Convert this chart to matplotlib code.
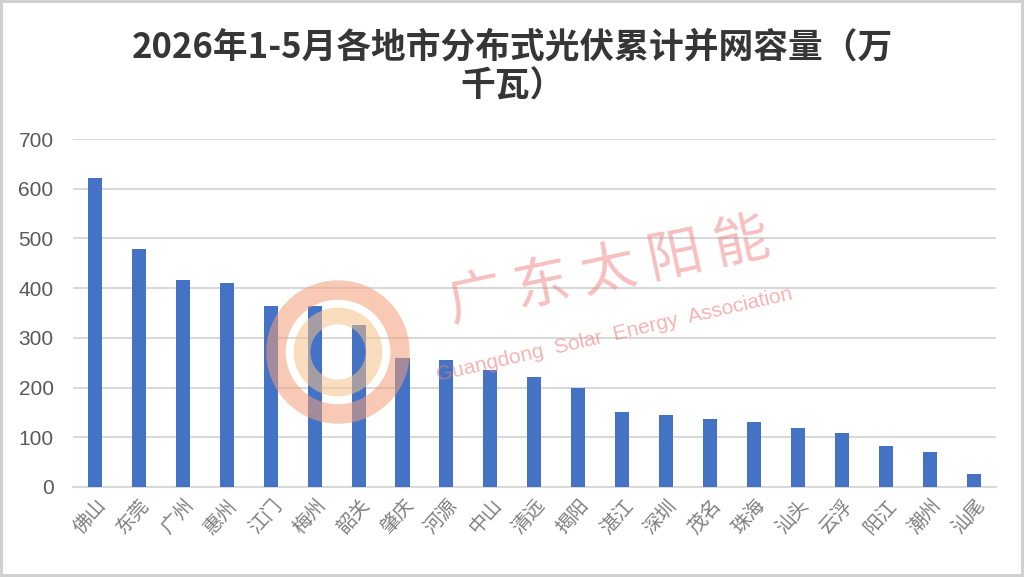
import matplotlib
matplotlib.use("Agg")
import matplotlib.pyplot as plt
from matplotlib.patches import Ellipse
import numpy as np

plt.rcParams['font.family'] = ['Noto Sans CJK SC', 'DejaVu Sans']

cities = ["佛山", "东莞", "广州", "惠州", "江门", "梅州", "韶关", "肇庆", "河源", "中山", "清远",
          "揭阳", "湛江", "深圳", "茂名", "珠海", "汕头", "云浮", "阳江", "潮州", "汕尾"]
capacity = [622, 478, 417, 410, 365, 365, 325, 259, 256, 235, 221,
            199, 150, 144, 136, 130, 118, 108, 83, 70, 27]
title = "2026年1-5月各地市分布式光伏累计并网容量（万\n千瓦）"

W, H = 1024, 577
fig = plt.figure(figsize=(W / 100, H / 100), dpi=100)
fig.patch.set_edgecolor("#d0d0d0")
fig.patch.set_linewidth(3)
ax = fig.add_axes([0.0713, 0.156, 0.901, 0.603])

x = np.arange(len(cities))
ax.bar(x, capacity, width=0.32, color="#4472c4", zorder=3)

ax.set_xlim(-0.5, len(cities) - 0.5)
ax.set_ylim(0, 700)
ax.yaxis.grid(True, color="#d9d9d9", linewidth=1.5, zorder=0)
for s in ["top", "right", "left"]:
    ax.spines[s].set_visible(False)
ax.spines["bottom"].set_color("#d9d9d9")
ax.spines["bottom"].set_linewidth(1.5)
ax.tick_params(axis="both", length=0)
ax.set_yticks(range(0, 701, 100))
ax.set_yticklabels([str(v) for v in range(0, 701, 100)], fontsize=15,
                   color="#595959", family=["Liberation Sans"])
ax.tick_params(axis="y", pad=14)
ax.set_xticks(x)
ax.set_xticklabels(cities, rotation=48, ha="right", rotation_mode="anchor",
                   fontsize=14, color="#7f7f7f", fontweight="light")
ax.tick_params(axis="x", pad=6)

fig.text(0.5, 0.885, title, ha="center", va="center", fontsize=25,
         fontweight="bold", color="#363636", linespacing=1.12)

# watermark
fig.text(0.595, 0.53, "广 东 太 阳 能", fontsize=40, color="#f08080", alpha=0.5,
         rotation=12, ha="center", va="center")
fig.text(0.6, 0.42, "Guangdong  Solar  Energy  Association", fontsize=15,
         color="#f08080", alpha=0.6, rotation=13, ha="center", va="center",
         family=["Liberation Sans"])
cx, cy = 338 / W, 1 - 352 / H
for r, c, lw in [(62, "#f3a07a", 14), (36, "#f7c08a", 12)]:
    fig.add_artist(Ellipse((cx, cy), 2 * r / W, 2 * r / H, transform=fig.transFigure,
                           fill=False, edgecolor=c, linewidth=lw, alpha=0.55))

fig.savefig("out.png", dpi=100)
